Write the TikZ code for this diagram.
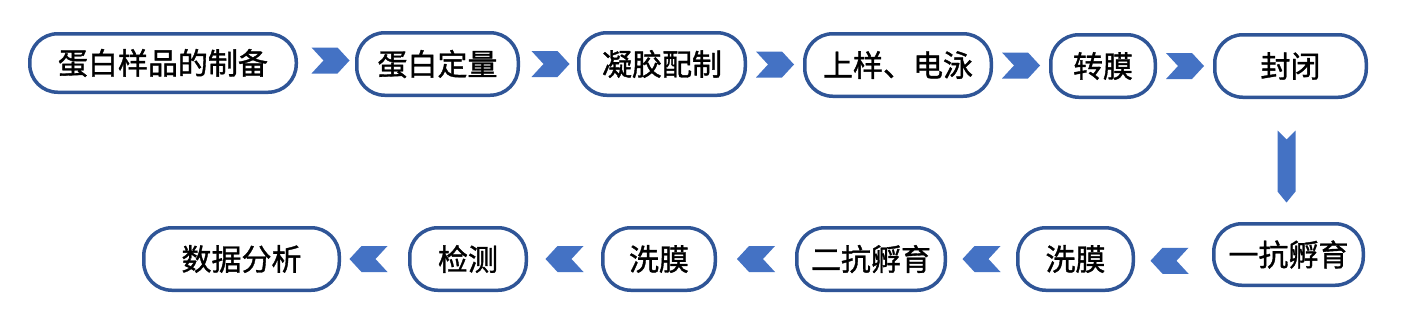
\documentclass[tikz,border=0pt]{standalone}
\usepackage{fontspec}
\newfontfamily\cjk[FakeBold=1.2]{Noto Sans CJK SC}
\usetikzlibrary{calc}
\definecolor{boxline}{HTML}{2F5597}
\definecolor{chevfill}{HTML}{4472C4}
\tikzset{
  stepbox/.style={draw=boxline, line width=3.5pt, fill=white, rounded corners=28pt,
    inner sep=0pt, font=\cjk\fontsize{30}{30}\selectfont, text=black},
  chev/.pic={\fill[chevfill] (-19,-13) -- (7,-13) -- (19,0) -- (7,13) -- (-19,13) -- (-7,0) -- cycle;},
  vchev/.pic={\fill[chevfill] (-9,-36) -- (0,-27) -- (9,-36) -- (9,25) -- (0,36) -- (-9,25) -- cycle;}
}
\begin{document}
\begin{tikzpicture}[x=1pt,y=-1pt]
\fill[white] (0,0) rectangle (1418,322);
\useasboundingbox (0,0) rectangle (1418,322);
% top row
\node[stepbox, minimum width=266.5pt, minimum height=58.5pt] (n1) at (163,63) {蛋白样品的制备};
\node[stepbox, minimum width=161.5pt, minimum height=62.5pt] (n2) at (437.5,64) {蛋白定量};
\node[stepbox, minimum width=166.5pt, minimum height=62.5pt] (n3) at (662,64) {凝胶配制};
\node[stepbox, minimum width=186.5pt, minimum height=62.5pt] (n4) at (898,65) {上样、电泳};
\node[stepbox, minimum width=104.5pt, minimum height=62.5pt] (n5) at (1103,66) {转膜};
\node[stepbox, minimum width=151.5pt, minimum height=62.5pt] (n6) at (1290.5,66) {封闭};
% bottom row
\node[stepbox, minimum width=149.5pt, minimum height=61.5pt] (b1) at (1288.5,254.5) {一抗孵育};
\node[stepbox, minimum width=115.5pt, minimum height=62.5pt] (b2) at (1075.5,259) {洗膜};
\node[stepbox, minimum width=148.5pt, minimum height=62.5pt] (b3) at (871,259) {二抗孵育};
\node[stepbox, minimum width=112.5pt, minimum height=62.5pt] (b4) at (659,259) {洗膜};
\node[stepbox, minimum width=116.5pt, minimum height=62.5pt] (b5) at (468,259) {检测};
\node[stepbox, minimum width=195.5pt, minimum height=62.5pt] (b6) at (241.5,259) {数据分析};
% connectors (chevrons)
\pic at ($(n1.east)!0.5!(n2.west)+(4,-3)$) {chev};
\pic at ($(n2.east)!0.5!(n3.west)+(2,0)$) {chev};
\pic at ($(n3.east)!0.5!(n4.west)$) {chev};
\pic at ($(n4.east)!0.5!(n5.west)$) {chev};
\pic at ($(n5.east)!0.5!(n6.west)$) {chev};
\pic at ($(n6.south)!0.5!(b1.north)+(-3,6)$) {vchev};
\pic[rotate=180] at ($(b1.west)!0.5!(b2.east)+(-4,4)$) {chev};
\pic[rotate=180] at ($(b2.west)!0.5!(b3.east)$) {chev};
\pic[rotate=180] at ($(b3.west)!0.5!(b4.east)$) {chev};
\pic[rotate=180] at ($(b4.west)!0.5!(b5.east)$) {chev};
\pic[rotate=180] at ($(b5.west)!0.5!(b6.east)+(-6,0)$) {chev};
\end{tikzpicture}
\end{document}
